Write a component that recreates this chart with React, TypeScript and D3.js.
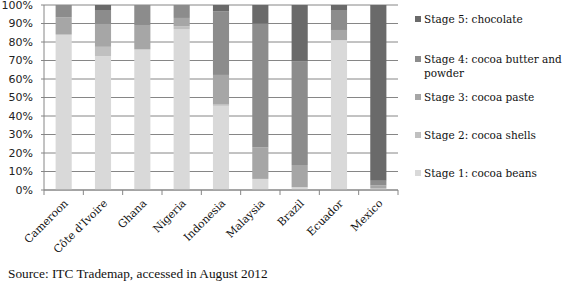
import React from "react";
import * as d3 from "d3";

const categories = ["Cameroon", "Côte d'Ivoire", "Ghana", "Nigeria", "Indonesia", "Malaysia", "Brazil", "Ecuador", "Mexico"];
const stage1 = [83.8, 72.4, 76, 87, 45.5, 6, 1.5, 81, 0.5];
const stage2 = [0.5, 5, 0, 1.5, 1, 0, 0, 0, 0.5];
const stage3 = [9.1, 12.5, 13.2, 4.5, 15.7, 17, 12, 5.5, 1.5];
const stage4 = [6.6, 7.4, 10.8, 7, 34.3, 67, 55.9, 10.8, 2.5];
const stage5 = [0, 2.7, 0, 0, 3.5, 10, 30.6, 2.7, 95];
const colors = ["#d9d9d9", "#c0c0c0", "#a6a6a6", "#8c8c8c", "#6a6a6a"];
const yTicks = [0, 10, 20, 30, 40, 50, 60, 70, 80, 90, 100];

export default function App() {
  const W = 564, H = 289;
  const left = 44, right = 398, top = 5, bottom = 190;
  const x = d3.scaleBand<string>().domain(categories).range([left, right]).paddingInner(0.59).paddingOuter(0.295);
  const xb = d3.scaleBand<string>().domain(categories).range([left, right]);
  const y = d3.scaleLinear().domain([0, 100]).range([bottom, top]);
  const rows = categories.map((c, i) => ({ c, s0: stage1[i], s1: stage2[i], s2: stage3[i], s3: stage4[i], s4: stage5[i] }));
  const stack = d3.stack<any>().keys(["s0", "s1", "s2", "s3", "s4"])(rows);

  const legendItems = [
    { i: 4, lines: ["Stage 5: chocolate"], y: 19 },
    { i: 3, lines: ["Stage 4: cocoa butter and", "powder"], y: 59 },
    { i: 2, lines: ["Stage 3: cocoa paste"], y: 97 },
    { i: 1, lines: ["Stage 2: cocoa shells"], y: 135 },
    { i: 0, lines: ["Stage 1: cocoa beans"], y: 173 },
  ];

  return (
    <div style={{ position: "absolute", left: 0, top: 0 }}>
      <svg width={W} height={H} style={{ display: "block", background: "#fff" }}>
        {yTicks.map((t) => (
          <g key={t}>
            <line x1={left - 3} x2={right} y1={y(t)} y2={y(t)} stroke="#868686" strokeWidth={1} />
            <text x={33} y={y(t)} dy="0.36em" textAnchor="end" fontFamily="DejaVu Sans" fontSize={11} fill="#222">{t}%</text>
          </g>
        ))}
        <line x1={left} x2={left} y1={top} y2={bottom} stroke="#868686" />
        {stack.map((s, si) => (
          <g key={si} fill={colors[si]}>
            {s.map((d: any) => (
              <rect key={d.data.c} x={x(d.data.c)} width={x.bandwidth()} y={y(d[1])} height={Math.max(0, y(d[0]) - y(d[1]))} />
            ))}
          </g>
        ))}
        <line x1={left} x2={right} y1={bottom} y2={bottom} stroke="#868686" />
        {categories.map((c) => (
          <line key={c} x1={(xb(c) as number) + xb.bandwidth()} x2={(xb(c) as number) + xb.bandwidth()} y1={bottom} y2={bottom + 5} stroke="#868686" />
        ))}
        <line x1={left} x2={left} y1={bottom} y2={bottom + 5} stroke="#868686" />
        {categories.map((c) => {
          const cx = (xb(c) as number) + xb.bandwidth() / 2;
          return (
            <text key={c} transform={`translate(${cx + 5},${bottom + 14}) rotate(-45)`} textAnchor="end" fontFamily="DejaVu Serif" fontSize={10.8} fill="#111">{c}</text>
          );
        })}
        {legendItems.map((it) => (
          <g key={it.i}>
            <rect x={415} y={it.y - 3} width={6} height={6} fill={colors[it.i]} />
            {it.lines.map((l, li) => (
              <text key={li} x={424} y={it.y + li * 14.5} dy="0.35em" fontFamily="DejaVu Serif" fontSize={10.5} fill="#111">{l}</text>
            ))}
          </g>
        ))}
        <text x={8} y={278} fontFamily="Liberation Serif" fontSize={13.3} fill="#111">Source: ITC Trademap, accessed in August 2012</text>
      </svg>
    </div>
  );
}
